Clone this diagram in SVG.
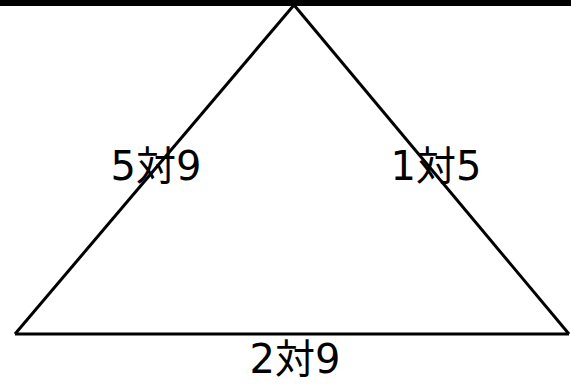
<svg xmlns="http://www.w3.org/2000/svg" width="571" height="390" viewBox="0 0 571 390">
  <style>
    .edge { stroke: #000; stroke-width: 3; fill: none; stroke-linejoin: miter; }
    .lbl { font-family: "DejaVu Sans", "Noto Sans CJK JP", sans-serif; font-size: 40px; fill: #000; text-anchor: middle; }
  </style>
  <rect x="0" y="0" width="571" height="390" fill="#fff"/>
  <g id="connectors">
    <line class="edge" x1="0" y1="3" x2="571" y2="3" style="stroke-width:6"/>
    <line id="left-side" class="edge" x1="294" y1="5" x2="15" y2="334"/>
    <line id="right-side" class="edge" x1="294" y1="5" x2="569" y2="334"/>
    <line id="base" class="edge" x1="15" y1="334" x2="569" y2="334"/>
  </g>
  <g id="label-left"><text class="lbl" x="156" y="180">5対9</text></g>
  <g id="label-right"><text class="lbl" x="436" y="180">1対5</text></g>
  <g id="label-base"><text class="lbl" x="295" y="373">2対9</text></g>
</svg>
